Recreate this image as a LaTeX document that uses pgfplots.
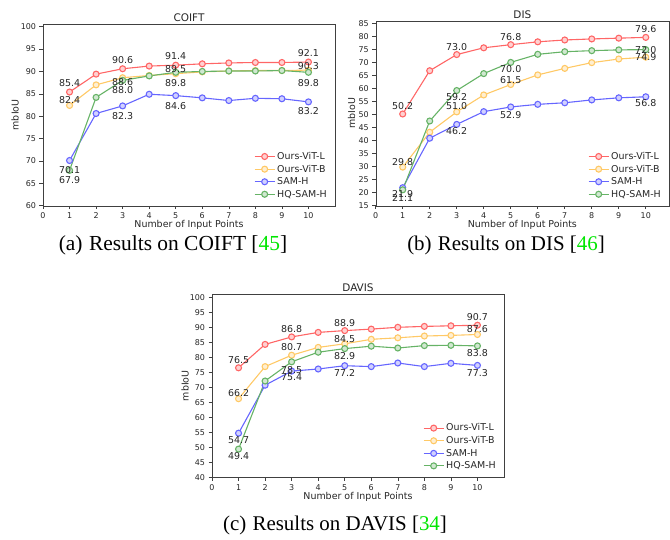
\documentclass[border=0pt]{standalone}
\usepackage{fontspec}
\setmainfont{Liberation Serif}
\newfontfamily\plotfont{DejaVu Sans}
\usepackage{pgfplots}
\pgfplotsset{compat=1.18}

\definecolor{cR}{RGB}{255,102,102}
\definecolor{cO}{RGB}{255,201,102}
\definecolor{cB}{RGB}{102,102,255}
\definecolor{cG}{RGB}{102,179,102}
\definecolor{citegreen}{RGB}{0,230,0}

\pgfplotsset{
 mystyle/.style={
  scale only axis, xmin=0, xmax=11, xtick={0,...,10},
  axis line style={black!75}, tick style={black!75, line width=0.6bp},
  tick align=outside, xtick pos=bottom, ytick pos=left,
  major tick length=3.5bp,
  /pgf/number format/assume math mode=true,
  ticklabel style={font=\plotfont\fontsize{8}{9}\selectfont, text=black!85},
  label style={font=\plotfont\fontsize{9.5}{11}\selectfont, text=black!85},
  title style={font=\plotfont\fontsize{10.5}{12}\selectfont, text=black!85, at={(0.5,1)}, anchor=base, yshift=-3.5bp},
  xlabel={Number of Input Points}, ylabel={mbIoU},
  xlabel style={at={(0.5,0)}, anchor=base, yshift=-22bp},
  legend style={draw=none, fill=none, at={(1,0)}, anchor=south east, xshift=-3bp, yshift=3bp,
    font=\plotfont\fontsize{9.5}{11}\selectfont, text=black!85, row sep=0bp, cells={anchor=west}},
  legend image code/.code={\draw[mark repeat=2,mark phase=2] plot coordinates {(0bp,0bp) (10bp,0bp) (20bp,0bp)};},
  every axis plot/.append style={line width=1.1bp, mark=*, mark size=3bp},
 },
 pR/.style={color=cR, mark options={fill=cR!30, draw=cR}},
 pO/.style={color=cO, mark options={fill=cO!30, draw=cO}},
 pB/.style={color=cB, mark options={fill=cB!30, draw=cB}},
 pG/.style={color=cG, mark options={fill=cG!30, draw=cG}},
 lab/.style={draw=none, mark=none, forget plot, nodes near coords, point meta=explicit symbolic,
   visualization depends on={\thisrow{dy} \as \dy},
   nodes near coords style={anchor=center, yshift=\dy bp, font=\plotfont\fontsize{9.5}{11}\selectfont, text=black!85, inner sep=0pt}},
}

\begin{document}
\begin{tikzpicture}
\path[use as bounding box] (0bp,0bp) rectangle (670bp,-540bp);

% ---------------- COIFT ----------------
\begin{axis}[mystyle, at={(43bp,-24bp)}, anchor=north west, width=292bp, height=181.7bp,
  ymin=60, ymax=100.6, ytick={60,65,...,100}, title={COIFT},
  ylabel style={at={(0,0.5)}, anchor=center, yshift=28bp}]
\addplot[pR] table {
x y
1 85.4
2 89.4
3 90.6
4 91.2
5 91.4
6 91.7
7 91.9
8 92.0
9 92.0
10 92.1
};
\addlegendentry{Ours-ViT-L}
\addplot[pO] table {
x y
1 82.4
2 87.0
3 88.6
4 89.1
5 89.5
6 89.9
7 90.1
8 90.2
9 90.2
10 90.3
};
\addlegendentry{Ours-ViT-B}
\addplot[pB] table {
x y
1 70.1
2 80.6
3 82.3
4 84.9
5 84.6
6 84.1
7 83.5
8 84.0
9 83.9
10 83.2
};
\addlegendentry{SAM-H}
\addplot[pG] table {
x y
1 67.9
2 84.2
3 88.0
4 89.0
5 89.8
6 90.0
7 90.1
8 90.1
9 90.2
10 89.8
};
\addlegendentry{HQ-SAM-H}
\addplot[lab] table[meta=lab] {
x y dy lab
1 85.4 9 85.4
3 90.6 9 90.6
5 91.4 9.5 91.4
10 92.1 9 92.1
};
\addplot[lab] table[meta=lab] {
x y dy lab
1 82.4 5.5 82.4
3 88.6 -4 88.6
5 89.5 4.7 89.5
10 90.3 4.5 90.3
};
\addplot[lab] table[meta=lab] {
x y dy lab
1 70.1 -9.5 70.1
3 82.3 -10.5 82.3
5 84.6 -10.4 84.6
10 83.2 -9 83.2
};
\addplot[lab] table[meta=lab] {
x y dy lab
1 67.9 -9.7 67.9
3 88.0 -9.6 88.0
5 89.8 -10.3 89.8
10 89.8 -10.3 89.8
};
\end{axis}

% ---------------- DIS ----------------
\begin{axis}[mystyle, at={(375.7bp,-20.7bp)}, anchor=north west, width=293.3bp, height=185bp,
  xmax=10.86, ymin=15, ymax=86, ytick={15,20,...,85}, title={DIS},
  ylabel style={at={(0,0.5)}, anchor=center, yshift=24bp}]
\addplot[pR] table {
x y
1 50.2
2 66.8
3 73.0
4 75.6
5 76.8
6 77.9
7 78.6
8 79.0
9 79.3
10 79.6
};
\addlegendentry{Ours-ViT-L}
\addplot[pO] table {
x y
1 29.8
2 43.2
3 51.0
4 57.5
5 61.5
6 65.2
7 67.7
8 69.9
9 71.3
10 72.0
};
\addlegendentry{Ours-ViT-B}
\addplot[pB] table {
x y
1 21.9
2 40.9
3 46.2
4 51.1
5 52.9
6 53.9
7 54.5
8 55.6
9 56.4
10 56.8
};
\addlegendentry{SAM-H}
\addplot[pG] table {
x y
1 21.1
2 47.5
3 59.2
4 65.7
5 70.0
6 73.1
7 74.1
8 74.5
9 74.8
10 74.9
};
\addlegendentry{HQ-SAM-H}
\addplot[lab] table[meta=lab] {
x y dy lab
1 50.2 8 50.2
3 73.0 8 73.0
5 76.8 8 76.8
10 79.6 8 79.6
};
\addplot[lab] table[meta=lab] {
x y dy lab
1 29.8 5.5 29.8
3 51.0 6 51.0
5 61.5 4.5 61.5
10 72.0 7 72.0
};
\addplot[lab] table[meta=lab] {
x y dy lab
1 21.9 -6.5 21.9
3 46.2 -6.3 46.2
5 52.9 -8 52.9
10 56.8 -6.5 56.8
};
\addplot[lab] table[meta=lab] {
x y dy lab
1 21.1 -8 21.1
3 59.2 -6.2 59.2
5 70.0 -7 70.0
10 74.9 -7.4 74.9
};
\end{axis}

% ---------------- DAVIS ----------------
\begin{axis}[mystyle, at={(212bp,-294.3bp)}, anchor=north west, width=292bp, height=183bp,
  ymin=40, ymax=101, ytick={40,45,...,100}, title={DAVIS},
  ylabel style={at={(0,0.5)}, anchor=center, yshift=27bp}]
\addplot[pR] table {
x y
1 76.5
2 84.3
3 86.8
4 88.3
5 88.9
6 89.4
7 90.0
8 90.3
9 90.5
10 90.7
};
\addlegendentry{Ours-ViT-L}
\addplot[pO] table {
x y
1 66.2
2 76.9
3 80.7
4 83.3
5 84.5
6 86.0
7 86.5
8 87.1
9 87.3
10 87.6
};
\addlegendentry{Ours-ViT-B}
\addplot[pB] table {
x y
1 54.7
2 70.7
3 75.4
4 76.1
5 77.2
6 76.9
7 78.1
8 76.9
9 78.0
10 77.3
};
\addlegendentry{SAM-H}
\addplot[pG] table {
x y
1 49.4
2 72.1
3 78.5
4 81.7
5 82.9
6 83.7
7 83.1
8 83.9
9 84.0
10 83.8
};
\addlegendentry{HQ-SAM-H}
\addplot[lab] table[meta=lab] {
x y dy lab
1 76.5 8 76.5
3 86.8 8 86.8
5 88.9 8 88.9
10 90.7 8 90.7
};
\addplot[lab] table[meta=lab] {
x y dy lab
1 66.2 5.4 66.2
3 80.7 7.9 80.7
5 84.5 4.5 84.5
10 87.6 5.2 87.6
};
\addplot[lab] table[meta=lab] {
x y dy lab
1 54.7 -6.8 54.7
3 75.4 -6.2 75.4
5 77.2 -7 77.2
10 77.3 -7.3 77.3
};
\addplot[lab] table[meta=lab] {
x y dy lab
1 49.4 -6.6 49.4
3 78.5 -8 78.5
5 82.9 -7.1 82.9
10 83.8 -6.8 83.8
};
\end{axis}

% ---------------- captions ----------------
\node[anchor=base, font=\fontsize{21.5}{25}\selectfont] at (173bp,-250bp) {(a)\hspace{0.3em}Results on COIFT [\textcolor{citegreen}{45}]};
\node[anchor=base, font=\fontsize{21}{25}\selectfont] at (506bp,-250bp) {(b)\hspace{0.3em}Results on DIS [\textcolor{citegreen}{46}]};
\node[anchor=base, font=\fontsize{21}{25}\selectfont] at (335bp,-530bp) {(c)\hspace{0.3em}Results on DAVIS [\textcolor{citegreen}{34}]};
\end{tikzpicture}
\end{document}
